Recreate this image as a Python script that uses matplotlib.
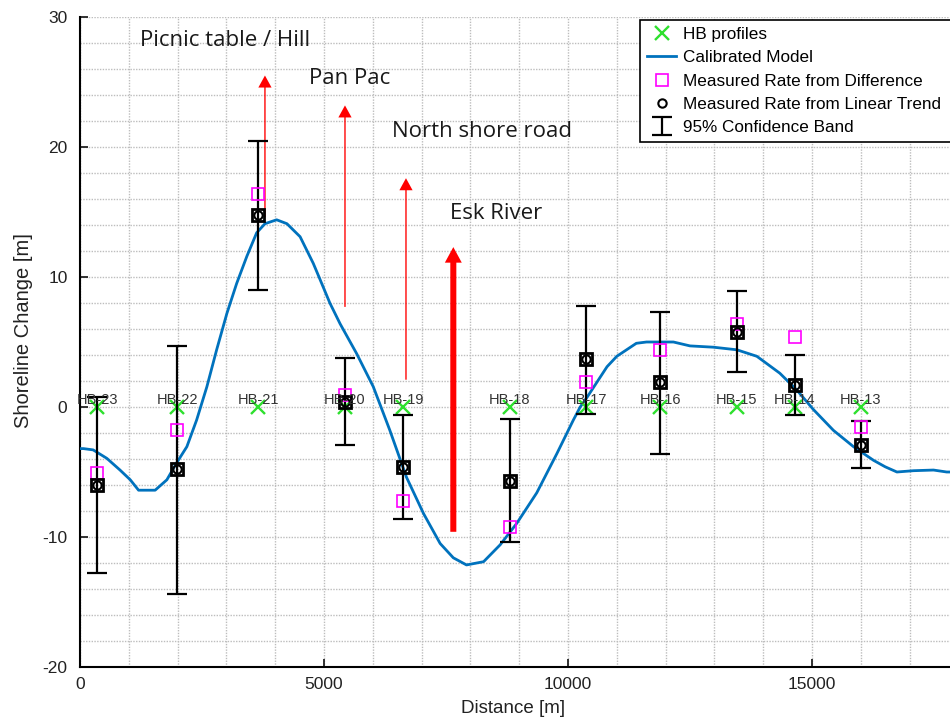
import matplotlib.pyplot as plt
from matplotlib.ticker import MultipleLocator

# HB profile stations
hb_names = ['HB-23', 'HB-22', 'HB-21', 'HB-20', 'HB-19', 'HB-18',
            'HB-17', 'HB-16', 'HB-15', 'HB-14', 'HB-13']
hb_x = [350, 1990, 3650, 5430, 6620, 8810, 10370, 11890, 13460, 14650, 16000]
hb_y = [0] * len(hb_x)

# measured rates
rate_diff = [-5.1, -1.8, 16.4, 0.9, -7.2, -9.2, 1.9, 4.4, 6.4, 5.4, -1.5]
rate_trend = [-6.0, -4.8, 14.8, 0.4, -4.6, -5.7, 3.7, 1.9, 5.8, 1.7, -2.9]
ci_upper = [0.8, 4.7, 20.5, 3.8, -0.6, -0.9, 7.8, 7.3, 8.9, 4.0, -1.1]
ci_lower = [-12.8, -14.4, 9.0, -2.9, -8.6, -10.4, -0.5, -3.6, 2.7, -0.6, -4.7]

# calibrated model
model_x = [0, 70, 270, 550, 820, 1030, 1200, 1540, 1780, 1980, 2190, 2390,
           2600, 2800, 3010, 3210, 3420, 3620, 3790, 4030, 4240, 4510, 4780,
           4920, 5120, 5330, 5670, 6010, 6350, 6690, 7040, 7380, 7650, 7920,
           8270, 8610, 8950, 9360, 9770, 10110, 10250, 10400, 10800, 11000,
           11400, 11610, 12160, 12500, 12980, 13460, 13870, 14340, 14690,
           15030, 15440, 15850, 16260, 16500, 16740, 17080, 17490, 17760, 18000]
model_y = [-3.2, -3.2, -3.3, -3.95, -4.85, -5.6, -6.4, -6.4, -5.6, -4.3, -3.05, -1.0,
           1.56, 4.4, 7.2, 9.5, 11.6, 13.4, 14.1, 14.4, 14.1, 13.1, 11.05,
           9.8, 8.0, 6.4, 4.1, 1.56, -1.8, -5.4, -8.2, -10.5, -11.6, -12.15,
           -11.9, -10.6, -8.95, -6.6, -3.6, -1.0, 0.0, 0.8, 3.1, 3.9,
           4.9, 5.0, 5.0, 4.7, 4.6, 4.4, 3.9, 2.6, 1.3,
           -0.2, -1.8, -3.05, -4.1, -4.6, -5.0, -4.9, -4.85, -5.0, -5.0]

# annotated features: label, label position, arrow x, arrow start, arrow tip
features = ['Picnic table / Hill', 'Pan Pac', 'North shore road', 'Esk River']
feature_text_x = [1230, 4690, 6390, 7580]
feature_text_y = [28.2, 25.3, 21.2, 14.9]
arrow_x = [3790, 5430, 6680, 7650]
arrow_y0 = [14.6, 7.7, 2.1, -9.6]
arrow_y1 = [25.5, 23.2, 17.6, 12.3]
arrow_thick = [False, False, False, True]


plt.rcParams['font.family'] = ['Liberation Sans', 'DejaVu Sans']
plt.rcParams['axes.unicode_minus'] = False

fig = plt.figure(figsize=(9.5, 7.19), dpi=100)
ax = fig.add_axes([80 / 950, 52 / 719, 878.4 / 950, 650 / 719])

for s in ['top', 'right']:
    ax.spines[s].set_visible(False)
ax.spines['left'].set_linewidth(1.5)
ax.spines['bottom'].set_linewidth(1.5)

ax.set_xlim(0, 18000)
ax.set_ylim(-20, 30)
ax.xaxis.set_major_locator(MultipleLocator(5000))
ax.xaxis.set_minor_locator(MultipleLocator(1000))
ax.yaxis.set_major_locator(MultipleLocator(10))
ax.yaxis.set_minor_locator(MultipleLocator(2))
ax.tick_params(which='major', direction='in', length=6, width=1.3,
               labelsize=12.5, colors='#222222', pad=9)
ax.tick_params(axis='x', pad=7)
ax.tick_params(which='minor', length=0)
ax.grid(which='both', color='#bdbdbd', linestyle=(0, (1, 1)), linewidth=1.0)
ax.set_axisbelow(True)

ax.plot(hb_x, hb_y, 'x', color='#2ee02e', markersize=9.5, mew=1.7,
        label='HB profiles', zorder=4)
ax.plot(model_x, model_y, '-', color='#0072BD', lw=2, label='Calibrated Model', zorder=3)
ax.plot(hb_x, rate_diff, 's', mfc='none', mec='#ff00ff', markersize=9, mew=1.2,
        label='Measured Rate from Difference', zorder=5)
ax.plot(hb_x, rate_trend, 's', mfc='none', mec='black', markersize=9, mew=2, zorder=5)
ax.plot(hb_x, rate_trend, 'o', mfc='none', mec='black', markersize=6, mew=1.5,
        label='Measured Rate from Linear Trend', zorder=5)
yerr = [[t - lo for t, lo in zip(rate_trend, ci_lower)],
        [hi - t for t, hi in zip(rate_trend, ci_upper)]]
ax.errorbar(hb_x, rate_trend, yerr=yerr, fmt='none', ecolor='black', elinewidth=1.6,
            capsize=7, capthick=1.6, label='95% Confidence Band', zorder=4)

for name, x in zip(hb_names, hb_x):
    ax.text(x, 0.55, name, ha='center', va='center', fontsize=10.5,
            color='#333333', zorder=6)

for i in range(len(features)):
    ax.text(feature_text_x[i], feature_text_y[i], features[i], ha='left', va='center',
            fontsize=16, family=['Open Sans', 'DejaVu Sans'], color='#1a1a1a')
    if arrow_thick[i]:
        style = 'simple,head_width=0.87,head_length=0.8,tail_width=0.31'
    else:
        style = 'simple,head_width=0.68,head_length=0.62,tail_width=0.07'
    ax.annotate('', xy=(arrow_x[i], arrow_y1[i]), xytext=(arrow_x[i], arrow_y0[i]),
                arrowprops=dict(arrowstyle=style, color='red', lw=0,
                                mutation_scale=14, shrinkA=0, shrinkB=0))

ax.set_xlabel('Distance [m]', fontsize=13.5, color='#222222')
ax.set_ylabel('Shoreline Change [m]', fontsize=14.5, color='#222222')
ax.xaxis.set_label_coords(0.493, -0.051)
ax.yaxis.set_label_coords(-0.0535, 0.518)

# legend runs off the right edge like in the original screenshot
leg = ax.legend(loc='upper left', bbox_to_anchor=(640 / 950, 0, 330 / 950, 1 - 20 / 719),
                bbox_transform=fig.transFigure, mode='expand', fontsize=12.3,
                frameon=True, fancybox=False, edgecolor='black', framealpha=1,
                labelspacing=0.48, handlelength=1.7, handletextpad=0.4,
                borderpad=0.42, borderaxespad=0)
leg.get_frame().set_linewidth(1.2)

fig.savefig('out.png', dpi=100)
